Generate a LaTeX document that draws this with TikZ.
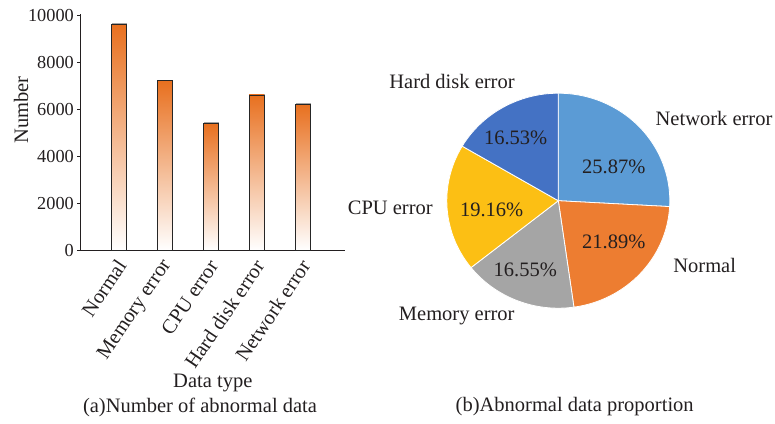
\documentclass[tikz,border=0pt]{standalone}
\usepackage{fontspec}
\setmainfont{Liberation Serif}
\definecolor{ink}{HTML}{231F20}
\definecolor{barorange}{HTML}{E8701F}
\definecolor{hdblue}{HTML}{4472C4}
\definecolor{netblue}{HTML}{5B9BD5}
\definecolor{normorange}{HTML}{ED7D31}
\definecolor{memgray}{HTML}{A5A5A5}
\definecolor{cpuyellow}{HTML}{FCBF14}
\tikzset{
  txt/.style={font=\fontsize{20.5}{24}\selectfont, text=ink, inner sep=0pt},
  ticklbl/.style={font=\fontsize{18.3}{22}\selectfont, text=ink, anchor=east, inner sep=0pt},
  catlbl/.style={txt, anchor=east, rotate=56},
  barbox/.style={draw=black!85, line width=0.8pt, top color=barorange, bottom color=white},
  barshade/.style={fill=black!35},
  axisline/.style={draw=ink, line width=0.8pt},
  slice/.style={draw=white, line width=0.8pt},
}
\begin{document}
\begin{tikzpicture}[x=1pt,y=1pt]
\useasboundingbox (0,0) rectangle (775,-423);

% ---------- bar chart ----------
\coordinate (origin) at (80,-250);
\coordinate (yend) at (80,-14);
\coordinate (xend) at (345,-250);
\draw[axisline] (yend) -- (origin) -- (xend);
\foreach \v [count=\i from 0] in {0,2000,4000,6000,8000,10000}{
  \coordinate (t\i) at (80,{-250+\v*0.0235});
  \draw[axisline] (t\i) -- ++(-3,0);
  \node[ticklbl] (tl\i) at ([xshift=-6]t\i) {\v};
}
\node[txt, rotate=90] (ylab) at (21,-110) {Number};

\foreach \val/\name [count=\i from 0] in {9600/Normal,7200/Memory error,5400/CPU error,6600/Hard disk error,6200/Network error}{
  \pgfmathsetmacro{\cx}{118.5+46*\i}
  \pgfmathsetmacro{\ty}{-250+\val*0.0235}
  \fill[barshade] ({\cx-7.5+1.2},-250) rectangle ({\cx+7.5+1.2},{\ty+1.2});
  \path[barbox] ({\cx-7.5},-250) rectangle ({\cx+7.5},\ty);
  \node[catlbl] (cat\i) at ({\cx+3},-262) {\name};
}
\node[txt] (xlab) at (212.8,-383) {Data type};
\node[txt] (capa) at (200,-407) {(a)Number of abnormal data};

% ---------- pie chart ----------
\coordinate (c) at (558.3,-200.7);
\def\rx{111.5}
\def\ry{107.5}
\foreach \a/\b/\col in {90/-3.132/netblue, -3.132/-81.936/normorange, -81.936/-141.516/memgray, -141.516/-210.492/cpuyellow, -210.492/-270/hdblue}{
  \path[slice, fill=\col] (c) -- ++({\rx*cos(\a)},{\ry*sin(\a)})
    arc[start angle=\a, end angle=\b, x radius=\rx, y radius=\ry] -- cycle;
}
\node[txt] (p1) at (515.7,-138.3) {16.53\%};
\node[txt] (p2) at (613.8,-166.7) {25.87\%};
\node[txt] (p3) at (491.7,-210) {19.16\%};
\node[txt] (p4) at (613.8,-241.7) {21.89\%};
\node[txt] (p5) at (525.3,-270) {16.55\%};

\node[txt] (lhd) at (452,-81.7) {Hard disk error};
\node[txt] (lnet) at (714,-118.3) {Network error};
\node[txt] (lcpu) at (390.3,-208.3) {CPU error};
\node[txt] (lnorm) at (704.7,-265) {Normal};
\node[txt] (lmem) at (456.7,-316) {Memory error};
\node[txt] (capb) at (574.7,-407) {(b)Abnormal data proportion};
\end{tikzpicture}
\end{document}
